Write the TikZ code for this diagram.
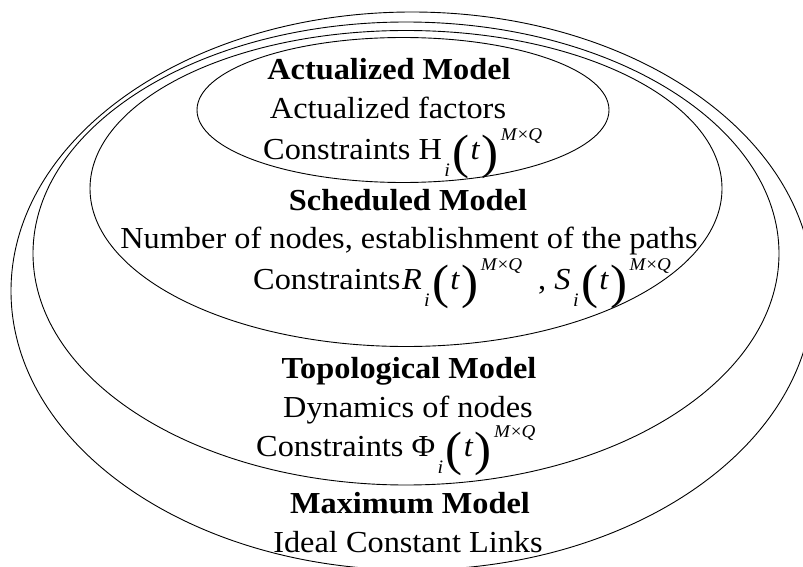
\documentclass[tikz,border=0pt]{standalone}
\usepackage{fontspec}
\setmainfont{Liberation Serif}[FakeStretch=1.06]
\usepackage{graphicx}
\usetikzlibrary{shapes.geometric}
\newcommand\vsub[1]{\kern0.08em\raisebox{-0.58em}{\fontsize{19}{19}\selectfont\itshape #1}\kern0.08em}
\newcommand\bpar[1]{\raisebox{-0.3em}{\scalebox{1.58}{(}}\kern0.04em\textit{#1}\kern0.04em\raisebox{-0.3em}{\scalebox{1.58}{)}}}
\newcommand\MQ{\kern0.08em\raisebox{0.62em}{\fontsize{18}{18}\selectfont\textit{M}×\textit{Q}}}
\begin{document}
\begin{tikzpicture}[x=1pt,y=-1pt,
  ring/.style={draw=black,line width=0.9pt,ellipse,inner sep=0pt},
  lbl/.style={anchor=base,inner sep=0pt,font=\fontsize{30.5}{36}\selectfont},
  mlbl/.style={lbl,anchor=base west},
  ttl/.style={lbl,font=\fontsize{30.5}{36}\selectfont\bfseries}]
\useasboundingbox (0,0) rectangle (803,567);
\clip (0,0) rectangle (803,567);
\node[ring,minimum width=802pt,minimum height=558pt] (max) at (412,291) {};
\node[ring,minimum width=746pt,minimum height=463pt] (topo) at (406,253.5) {};
\node[ring,minimum width=632pt,minimum height=316pt] (sched) at (406,188.5) {};
\node[ring,minimum width=412pt,minimum height=145pt] (act) at (403,110) {};
% Actualized
\node[ttl] (t1) at (389,80) {Actualized Model};
\node[lbl] (a1) at (388,119) {Actualized factors};
\node[mlbl] (a2) at (263,159) {Constraints H\vsub{i}\bpar{t}\MQ};
% Scheduled
\node[ttl] (t2) at (408,210) {Scheduled Model};
\node[lbl] (s1) at (409,248) {Number of nodes, establishment of the paths};
\node[mlbl] (s2) at (253,289) {Constraints\kern0.05em\textit{R}\vsub{i}\bpar{t}\MQ\ \ , \textit{S}\vsub{i}\bpar{t}\MQ};
% Topological
\node[ttl] (t3) at (409,378) {Topological Model};
\node[lbl] (p1) at (408,417) {Dynamics of nodes};
\node[mlbl] (p2) at (256,456) {Constraints Φ\vsub{i}\bpar{t}\MQ};
% Maximum
\node[ttl] (t4) at (410,513) {Maximum Model};
\node[lbl] (m1) at (408,552) {Ideal Constant Links};
\end{tikzpicture}
\end{document}
